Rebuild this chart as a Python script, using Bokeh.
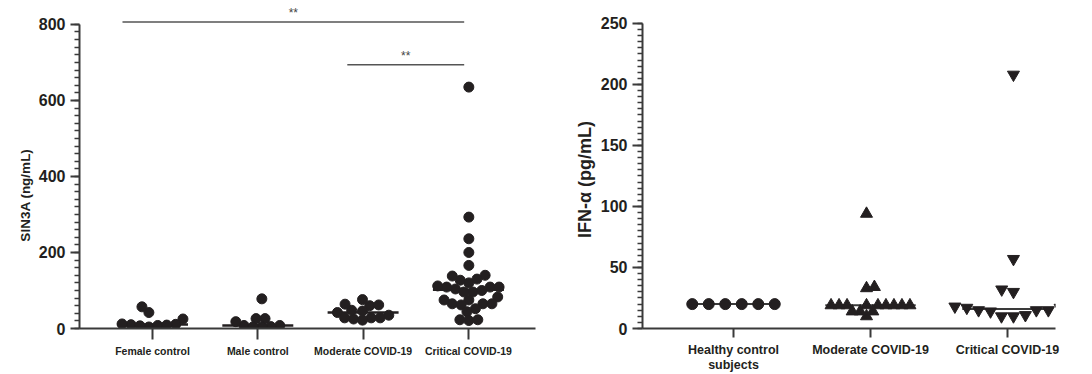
import numpy as np
from bokeh.plotting import figure
from bokeh.layouts import row
from bokeh.models import SingleIntervalTicker, Title
from bokeh.core.properties import value
from bokeh.embed import file_html
from bokeh.resources import INLINE

# ---------------- data ----------------
left_categories = ["Female control", "Male control", "Moderate COVID-19", "Critical COVID-19"]
female_control = [42, 25, 4, 10, 12, 57, 11, 8, 9, 7]
male_control = [26, 8, 18, 26, 8, 78, 5, 4, 4]
moderate_sin3a = [60, 25, 76, 46, 28, 42, 48, 22, 62, 35, 64, 28, 28]
critical_sin3a = [635, 293, 236, 200, 166, 127, 138, 140, 120, 130, 104, 109, 109, 112,
                  96, 96, 109, 100, 75, 65, 65, 83, 65, 75, 62, 52, 44, 21, 23, 23]
left_tick_step = 200
left_max = 800
sig_from = [0, 2]
sig_to = [3, 3]
sig_y = [806, 694]
sig_text = ["**", "**"]

right_categories = ["Healthy control\nsubjects", "Moderate COVID-19", "Critical COVID-19"]
healthy_ifn = [20, 20, 20, 20, 20, 20]
moderate_ifn = [19, 19, 19, 19, 19, 10, 33, 14, 94, 34, 14, 14, 19, 19, 19, 19]
critical_ifn = [11, 17, 14, 15, 17, 10, 30, 32, 57, 208, 15, 18, 10, 15]
right_tick_step = 50
right_max = 250

FONT = "Liberation Sans"
INK = "#231f20"
AXIS = "#3a3a3a"
NB = "\u00a0"


def swarm(vals, ypx, d):
    """Simple beeswarm: returns horizontal offsets in pixels."""
    vals = np.asarray(vals, dtype=float)
    n = len(vals)
    order = np.argsort(vals, kind="stable")
    placed = []
    off = np.zeros(n)
    for k, i in enumerate(order):
        y = vals[i] * ypx
        ints = []
        for xj, yj in placed:
            dy = abs(y - yj)
            if dy < d:
                w = np.sqrt(d * d - dy * dy)
                ints.append((xj - w, xj + w))
        cands = [0.0] + [a for a, b in ints] + [b for a, b in ints]
        ok = [c for c in cands if all(not (a + 1e-9 < c < b - 1e-9) for a, b in ints)]
        best = min(ok, key=lambda c: (round(abs(c), 6), c if k % 2 else -c))
        off[i] = best
        placed.append((best, y))
    off -= (off.max() + off.min()) / 2.0
    return off


def style(p, fs_tick):
    p.grid.visible = False
    p.outline_line_color = None
    p.background_fill_color = "white"
    for ax in (p.xaxis[0], p.yaxis[0]):
        ax.axis_line_width = 2
        ax.axis_line_color = AXIS
        ax.major_tick_line_color = AXIS
        ax.minor_tick_line_color = AXIS
        ax.major_tick_line_width = 2
        ax.minor_tick_line_width = 1.5
        ax.major_tick_in = 0
        ax.minor_tick_in = 0
        ax.major_label_text_font = FONT
        ax.major_label_text_font_style = "bold"
        ax.major_label_text_color = INK
    p.yaxis.major_label_text_font_size = fs_tick


def side_title(p, text, size, standoff):
    p.add_layout(Title(text=text, align="center", text_font=FONT, text_font_size=size,
                       text_font_style="bold", text_color=INK, standoff=standoff), "left")


H = 374
TOP = 5                    # bokeh default min_border
BOT = 44
FRAME_H = H - TOP - BOT    # frame 5..330

# ---------------- left panel ----------------
L_W = 540                  # frame 79..535 (default right border 5)
L_ml = 79
l_xpx = 105.3
lx0 = 1 - 73 / l_xpx
lx1 = lx0 + (L_W - L_ml - 5) / l_xpx
l_ypx = (FRAME_H - 19) / float(left_max)
ly1 = FRAME_H / l_ypx
p1 = figure(width=L_W, height=H, x_range=(lx0, lx1), y_range=(0, ly1),
            output_backend="svg", toolbar_location=None,
            min_border_left=L_ml, min_border_bottom=BOT)
style(p1, "16px")

left_groups = [female_control, male_control, moderate_sin3a, critical_sin3a]
for gi, vals in enumerate(left_groups):
    offs = swarm(vals, l_ypx, 9.0) / l_xpx
    xs = (gi + 1) + offs
    med = float(np.median(vals))
    p1.hbar(y=[med], left=[gi + 1 - 0.337], right=[gi + 1 + 0.337],
            height=2.5 / l_ypx, fill_color=INK, line_color=None)
    p1.scatter(x=xs, y=vals, size=10, marker="circle", fill_color=INK, line_color=INK)

p1.xaxis.ticker = SingleIntervalTicker(interval=1, num_minor_ticks=0)
p1.xaxis.major_label_overrides = {i + 1: c for i, c in enumerate(left_categories)}
p1.xaxis.major_label_text_font_size = "10.5px"
p1.xaxis.major_tick_out = 11
p1.xaxis.minor_tick_out = 0
p1.yaxis.ticker = SingleIntervalTicker(interval=left_tick_step, num_minor_ticks=10)
p1.yaxis.bounds = (0, left_max)
p1.yaxis.major_tick_out = 9
p1.yaxis.minor_tick_out = 5
side_title(p1, "SIN3A (ng/mL)" + NB * 15, "13.5px", 6)

left_pads = [0.285, 0.15]
for a, b, y, t, pad in zip(sig_from, sig_to, sig_y, sig_text, left_pads):
    xa = a + 1 - pad
    xb = b + 1 - 0.04
    p1.hbar(y=[y], left=[xa], right=[xb], height=1.5 / l_ypx,
            fill_color="#555555", line_color=None)
    p1.text(x=[(xa + xb) / 2], y=[y + 9 / l_ypx], text=[t], text_align="center",
            text_baseline="middle", text_font=value(FONT), text_font_size="12px",
            text_color="#444444")

# ---------------- right panel ----------------
R_W = 520                  # figure 540..1060, frame 642..1055
R_ml = 102
r_xpx = 137.0
rx0 = 1 - 91 / r_xpx
rx1 = rx0 + (R_W - R_ml - 5) / r_xpx
r_ypx = (FRAME_H - 18) / float(right_max)
ry1 = FRAME_H / r_ypx
p2 = figure(width=R_W, height=H, x_range=(rx0, rx1), y_range=(0, ry1),
            output_backend="svg", toolbar_location=None,
            min_border_left=R_ml, min_border_bottom=BOT)
style(p2, "16px")

right_groups = [healthy_ifn, moderate_ifn, critical_ifn]
right_markers = ["circle", "triangle", "inverted_triangle"]
right_spacing = [16.5, 8.0, 12.0]
right_sizes = [11, 12, 12]
for gi, vals in enumerate(right_groups):
    offs = swarm(vals, r_ypx, right_spacing[gi]) / r_xpx
    xs = (gi + 1) + offs
    med = float(np.median(vals))
    p2.hbar(y=[med], left=[gi + 1 - 0.33], right=[gi + 1 + 0.33],
            height=2.0 / r_ypx, fill_color=AXIS, line_color=None)
    p2.scatter(x=xs, y=vals, size=right_sizes[gi], marker=right_markers[gi],
               fill_color=INK, line_color=INK)

p2.xaxis.ticker = SingleIntervalTicker(interval=1, num_minor_ticks=0)
p2.xaxis.major_label_overrides = {i + 1: c for i, c in enumerate(right_categories)}
p2.xaxis.major_label_text_font_size = "12.5px"
p2.xaxis.major_label_text_line_height = 1.1
p2.xaxis.major_tick_out = 9
p2.xaxis.minor_tick_out = 0
p2.yaxis.ticker = SingleIntervalTicker(interval=right_tick_step, num_minor_ticks=10)
p2.yaxis.bounds = (0, right_max)
p2.yaxis.major_tick_out = 10
p2.yaxis.minor_tick_out = 5
side_title(p2, "IFN-α (pg/mL)" + NB * 5, "18px", 5)

layout = row(p1, p2)
open("out.html", "w").write(file_html(layout, INLINE))
